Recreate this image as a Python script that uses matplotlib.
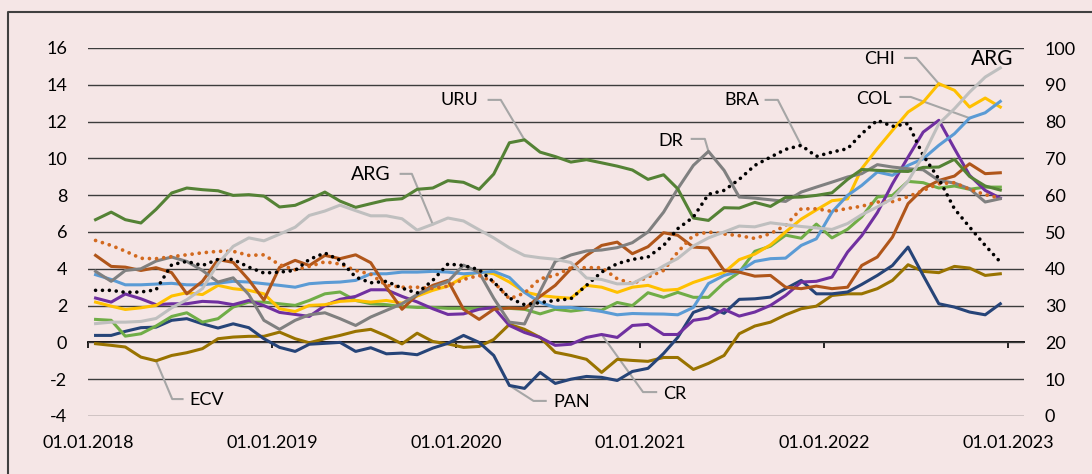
import numpy as np
import pandas as pd
import matplotlib
matplotlib.use("Agg")
import matplotlib.pyplot as plt
import matplotlib.dates as mdates
from matplotlib.lines import Line2D
from matplotlib.ticker import NullFormatter

plt.rcParams['font.family'] = ['Lato', 'DejaVu Sans']
plt.rcParams['axes.unicode_minus'] = False

# monthly observations, Jan 2018 .. Dec 2022 (plotted mid-month)
months = pd.date_range('2018-01-01', periods=60, freq='MS') + pd.Timedelta(days=15)

uru = [6.67, 7.08, 6.67, 6.49, 7.23, 8.12, 8.39, 8.30, 8.24, 7.99,
       8.03, 7.95, 7.36, 7.45, 7.77, 8.17, 7.68, 7.34, 7.54, 7.74,
       7.81, 8.32, 8.39, 8.79, 8.70, 8.32, 9.15, 10.85, 11.01, 10.34,
       10.10, 9.80, 9.93, 9.76, 9.58, 9.37, 8.86, 9.11, 8.35, 6.76,
       6.63, 7.32, 7.30, 7.61, 7.39, 7.88, 7.90, 7.99, 8.13, 8.86,
       9.40, 9.35, 9.31, 9.29, 9.51, 9.53, 9.95, 9.02, 8.50, 8.28]

# ARG is read on the right-hand axis
arg = [25.1, 25.5, 25.5, 25.7, 26.5, 29.4, 31.6, 34.6, 41.4, 46.1,
       48.4, 47.6, 49.4, 51.3, 54.5, 55.7, 57.3, 55.8, 54.4, 54.4,
       53.6, 50.5, 52.1, 53.8, 53.0, 50.6, 48.4, 45.7, 43.6, 43.0,
       42.6, 41.7, 37.5, 37.1, 35.9, 36.0, 38.2, 40.8, 42.8, 46.2,
       48.4, 50.0, 51.6, 51.4, 52.5, 52.0, 51.5, 51.1, 50.7, 52.3,
       54.7, 56.8, 59.1, 63.8, 70.8, 79.4, 83.5, 88.0, 92.1, 94.6]

dr = [3.86, 3.32, 3.91, 4.00, 4.42, 4.64, 4.40, 3.91, 3.28, 3.51,
      2.60, 1.20, 0.71, 1.20, 1.50, 1.61, 1.29, 0.92, 1.38, 1.74,
      2.10, 2.60, 3.00, 3.30, 4.20, 3.80, 2.40, 1.10, 1.00, 2.78,
      4.40, 4.75, 4.97, 5.02, 5.15, 5.42, 6.00, 7.08, 8.35, 9.62,
      10.38, 9.35, 7.90, 7.84, 7.75, 7.66, 8.17, 8.44, 8.71, 8.99,
      9.17, 9.66, 9.53, 9.44, 9.38, 8.80, 8.66, 8.35, 7.63, 7.81]

bra = [2.83, 2.83, 2.72, 2.74, 2.86, 4.22, 4.40, 4.18, 4.51, 4.51,
       4.09, 3.77, 3.82, 3.91, 4.51, 4.86, 4.46, 3.55, 3.24, 3.32,
       2.95, 2.68, 3.37, 4.26, 4.18, 3.95, 3.28, 2.41, 2.05, 2.16,
       2.28, 2.37, 3.10, 3.82, 4.28, 4.51, 4.64, 5.27, 6.18, 6.81,
       8.05, 8.26, 8.86, 9.62, 10.07, 10.49, 10.71, 10.11, 10.34, 10.53,
       11.34, 12.07, 11.74, 11.89, 10.16, 8.89, 7.26, 6.27, 5.27, 4.37]

orange_dot = [5.54, 5.27, 4.96, 4.57, 4.55, 4.66, 4.76, 4.87, 4.95, 4.95,
              4.73, 4.76, 4.22, 3.95, 4.13, 4.38, 4.26, 3.91, 3.70, 3.10,
              3.00, 3.00, 2.93, 3.06, 3.42, 3.64, 3.28, 2.37, 2.68, 3.46,
              3.64, 4.06, 4.06, 4.06, 3.46, 3.19, 3.55, 3.91, 4.91, 5.82,
              6.00, 5.89, 5.80, 5.65, 5.91, 6.36, 7.26, 7.26, 7.12, 7.28,
              7.40, 7.63, 7.65, 7.92, 8.26, 8.62, 8.68, 8.32, 8.03, 7.84]

brown = [4.73, 4.13, 4.09, 3.91, 4.06, 3.79, 2.64, 3.32, 4.50, 4.35,
         3.40, 2.30, 4.08, 4.46, 4.18, 4.73, 4.55, 4.76, 4.33, 3.00,
         1.80, 2.59, 3.10, 3.37, 1.80, 1.25, 1.80, 1.87, 1.83, 2.50,
         3.10, 4.00, 4.73, 5.27, 5.45, 4.82, 5.20, 5.96, 5.82, 5.18,
         5.13, 3.91, 3.82, 3.60, 3.64, 3.00, 2.92, 3.06, 2.92, 3.00,
         4.18, 4.64, 5.72, 7.54, 8.35, 8.80, 9.04, 9.71, 9.17, 9.22]

col = [3.68, 3.42, 3.13, 3.13, 3.17, 3.21, 3.13, 3.13, 3.22, 3.32,
       3.28, 3.19, 3.10, 3.00, 3.19, 3.25, 3.28, 3.37, 3.73, 3.73,
       3.82, 3.82, 3.86, 3.82, 3.73, 3.79, 3.86, 3.53, 2.72, 2.17,
       1.90, 1.90, 1.80, 1.68, 1.50, 1.57, 1.55, 1.54, 1.50, 1.90,
       3.20, 3.64, 3.86, 4.40, 4.55, 4.58, 5.27, 5.63, 7.08, 7.99,
       8.53, 9.26, 9.08, 9.62, 9.98, 10.71, 11.34, 12.19, 12.48, 13.10]

chi = [2.19, 1.97, 1.79, 1.88, 2.01, 2.52, 2.70, 2.60, 3.10, 2.92,
       2.83, 2.64, 1.83, 1.68, 2.01, 2.05, 2.23, 2.28, 2.19, 2.28,
       2.13, 2.52, 2.83, 3.06, 3.55, 3.86, 3.73, 3.28, 2.74, 2.55,
       2.46, 2.40, 3.10, 3.00, 2.72, 3.00, 3.10, 2.83, 2.88, 3.26,
       3.53, 3.80, 4.50, 4.80, 5.30, 6.00, 6.70, 7.20, 7.70, 7.80,
       9.44, 10.53, 11.52, 12.52, 13.06, 14.06, 13.70, 12.79, 13.28, 12.79]

cr = [2.41, 2.19, 2.63, 2.37, 2.05, 2.10, 2.10, 2.23, 2.19, 2.05,
      2.28, 2.00, 1.63, 1.52, 1.41, 2.00, 2.34, 2.50, 2.86, 2.86,
      2.50, 2.20, 1.83, 1.52, 1.55, 1.80, 1.90, 0.92, 0.54, 0.27,
      -0.16, -0.10, 0.27, 0.43, 0.27, 0.92, 0.98, 0.43, 0.43, 1.20,
      1.32, 1.80, 1.43, 1.65, 2.01, 2.55, 3.28, 3.32, 3.55, 4.91,
      5.80, 7.05, 8.62, 10.07, 11.43, 12.07, 10.53, 9.08, 8.26, 7.84]

light_green = [1.25, 1.20, 0.34, 0.47, 0.89, 1.41, 1.61, 1.10, 1.29, 1.92,
               2.19, 2.19, 2.10, 2.01, 2.28, 2.64, 2.74, 2.28, 2.10, 2.05,
               1.95, 1.90, 1.90, 1.85, 1.85, 1.85, 1.85, 1.85, 1.80, 1.55,
               1.80, 1.70, 1.80, 1.75, 2.17, 2.00, 2.70, 2.45, 2.72, 2.45,
               2.45, 3.25, 3.81, 4.95, 5.23, 5.83, 5.66, 6.43, 5.68, 6.15,
               6.82, 7.90, 7.99, 8.75, 8.68, 8.39, 8.50, 8.32, 8.44, 8.44]

pan = [0.38, 0.38, 0.60, 0.80, 0.83, 1.20, 1.29, 1.01, 0.78, 1.01,
       0.80, 0.20, -0.27, -0.49, -0.10, -0.05, 0.00, -0.49, -0.29, -0.62,
       -0.58, -0.67, -0.31, -0.05, 0.38, 0.00, -0.71, -2.34, -2.50, -1.63,
       -2.23, -2.00, -1.85, -1.90, -2.07, -1.58, -1.41, -0.60, 0.27, 1.63,
       1.93, 1.58, 2.34, 2.37, 2.46, 2.92, 3.37, 2.64, 2.64, 2.74,
       3.15, 3.64, 4.18, 5.18, 3.64, 2.10, 1.92, 1.65, 1.50, 2.10]

ecv = [-0.07, -0.16, -0.25, -0.80, -1.00, -0.71, -0.56, -0.34, 0.20, 0.29,
       0.33, 0.33, 0.56, 0.20, -0.02, 0.20, 0.38, 0.60, 0.71, 0.35,
       -0.08, 0.50, 0.05, -0.08, -0.27, -0.22, 0.16, 0.98, 0.71, 0.27,
       -0.54, -0.71, -0.92, -1.63, -0.92, -0.98, -1.03, -0.82, -0.82, -1.47,
       -1.14, -0.71, 0.47, 0.89, 1.10, 1.50, 1.83, 1.97, 2.55, 2.64,
       2.64, 2.92, 3.37, 4.22, 3.86, 3.79, 4.13, 4.04, 3.64, 3.73]

years = pd.date_range('2018-01-01', '2023-01-01', freq='YS')
x = mdates.date2num(months)

bg = '#f5e6e6'
fig = plt.figure(figsize=(10.92, 4.74), dpi=100, facecolor=bg)
ax = fig.add_axes([88 / 1092, 58 / 474, 936 / 1092, 368 / 474])
ax.set_facecolor(bg)

ax.set_xlim(mdates.date2num(pd.Timestamp('2018-01-01')), mdates.date2num(pd.Timestamp('2023-02-01')))
ax.set_ylim(-4, 16)
ax.set_yticks(range(-4, 17, 2))
ax.yaxis.grid(True, color='#3c3c3c', lw=1.0)
ax.set_axisbelow(True)
for s in ax.spines.values():
    s.set_visible(False)
ax.set_xticks(mdates.date2num(years))
ax.xaxis.set_major_formatter(mdates.DateFormatter('%d.%m.%Y'))
ax.tick_params(axis='x', length=0, pad=14, labelsize=13)
ax.tick_params(axis='y', length=0, pad=15, labelsize=13)

# axis line at zero with year ticks
zero = ax.secondary_xaxis(0.2)
zero.set_xticks(mdates.date2num(years))
zero.xaxis.set_major_formatter(NullFormatter())
zero.tick_params(length=4, width=1.2, color='black', direction='out')
zero.spines['bottom'].set_color('black')
zero.spines['bottom'].set_linewidth(1.3)

lw = 2.2
ax.plot(x, ecv, color='#997300', lw=lw)
ax.plot(x, pan, color='#264478', lw=lw)
ax.plot(x, light_green, color='#70ad47', lw=lw)
ax.plot(x, cr, color='#7030a0', lw=lw)
ax.plot(x, chi, color='#ffc000', lw=lw)
ax.plot(x, col, color='#5b9bd5', lw=lw)
ax.plot(x, brown, color='#b0561a', lw=lw)
ax.plot(x, dr, color='#808080', lw=lw)
ax.plot(x, uru, color='#548235', lw=lw)
ax.plot(x, orange_dot, color='#d2691e', lw=2.7, ls=(0, (0.01, 1.9)), dash_capstyle='round')
ax.plot(x, bra, color='black', lw=2.6, ls=(0, (0.01, 1.9)), dash_capstyle='round')

ax2 = ax.twinx()
ax2.set_ylim(0, 100)
ax2.set_yticks(range(0, 101, 10))
ax2.tick_params(axis='y', length=0, pad=15, labelsize=13)
for s in ax2.spines.values():
    s.set_visible(False)
ax2.plot(x, arg, color='#bfbfbf', lw=lw)

# labels with leader lines
lead = '#a6a6a6'
to_axes = ax.transAxes.inverted()


def label(text, tx, ty, sx, ex, ly, axis=None, series=None, i=None, size=13):
    ax.text(tx, ty, text, transform=ax.transAxes, ha='center', va='center', fontsize=size)
    if series is None:
        return
    px, py = to_axes.transform(axis.transData.transform((x[i], series[i])))
    ax.plot([sx, ex, px], [ly, ly, py], transform=ax.transAxes, color=lead, lw=1.5,
            clip_on=False, zorder=1)


label('ARG', 0.302, 0.655, 0.334, 0.346, 0.658, ax2, arg, 22, size=14)
label('URU', 0.397, 0.859, 0.428, 0.441, 0.859, ax, uru, 28)
label('DR', 0.623, 0.747, 0.645, 0.659, 0.753, ax, dr, 40)
label('BRA', 0.698, 0.859, 0.724, 0.737, 0.859, ax, bra, 46)
label('CHI', 0.846, 0.970, 0.873, 0.885, 0.973, ax, chi, 55)
label('COL', 0.840, 0.861, 0.868, 0.879, 0.867, ax, col, 57)
label('ARG', 0.966, 0.970, 0, 0, 0, size=15)
label('ECV', 0.127, 0.043, 0.101, 0.090, 0.046, ax, ecv, 4)
label('PAN', 0.517, 0.038, 0.489, 0.476, 0.041, ax, pan, 27)
label('CR', 0.627, 0.060, 0.607, 0.593, 0.065, ax, cr, 33)

# outer frame (open at right and bottom)
fig.add_artist(Line2D([8 / 1092, 8 / 1092, 1], [0, 1 - 12 / 474, 1 - 12 / 474],
                      transform=fig.transFigure, color='#404040', lw=1.5))

fig.savefig('out.png', dpi=100, facecolor=bg)
